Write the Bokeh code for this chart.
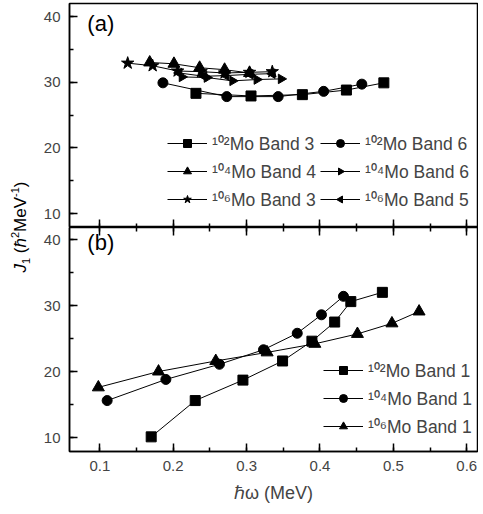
from bokeh.plotting import figure
from bokeh.models import (Range1d, SingleIntervalTicker, LinearAxis, Legend,
                          LegendItem, Label, Div, CustomJS, CustomJSTickFormatter)
from bokeh.layouts import row, column
from bokeh.embed import file_html
from bokeh.resources import INLINE

FONT = "Liberation Sans"

# ---------------- data: panel (a) ----------------
mo102_b3_x = [0.231, 0.306, 0.376, 0.436, 0.487]
mo102_b3_y = [28.3, 27.9, 28.1, 28.8, 29.9]
mo102_b6_x = [0.186, 0.273, 0.343, 0.405, 0.457]
mo102_b6_y = [29.9, 27.8, 27.8, 28.6, 29.7]
mo104_b4_x = [0.168, 0.201, 0.236, 0.270, 0.304]
mo104_b4_y = [33.0, 32.8, 32.2, 31.9, 31.4]
mo104_b6_x = [0.212, 0.246, 0.281, 0.314, 0.347]
mo104_b6_y = [30.8, 30.7, 30.2, 30.4, 30.5]
mo106_b3_x = [0.138, 0.172, 0.206, 0.238, 0.270, 0.304, 0.335]
mo106_b3_y = [32.9, 32.5, 31.7, 31.6, 31.4, 31.5, 31.6]
mo106_b5_x = [0.208, 0.242, 0.272, 0.305, 0.335]
mo106_b5_y = [31.4, 30.9, 31.0, 31.2, 31.3]

# ---------------- data: panel (b) ----------------
mo102_b1_x = [0.170, 0.230, 0.295, 0.349, 0.389, 0.420, 0.442, 0.485]
mo102_b1_y = [10.1, 15.6, 18.7, 21.6, 24.6, 27.5, 30.6, 32.0]
mo104_b1_x = [0.110, 0.190, 0.263, 0.323, 0.369, 0.402, 0.432]
mo104_b1_y = [15.6, 18.8, 21.1, 23.3, 25.8, 28.6, 31.4]
mo106_b1_x = [0.098, 0.180, 0.258, 0.328, 0.393, 0.451, 0.498, 0.535]
mo106_b1_y = [17.6, 20.0, 21.6, 22.9, 24.2, 25.7, 27.3, 29.1]

X0, X1 = 0.0587, 0.6146
YA0, YA1 = 7.87, 41.98
YB0, YB1 = 7.88, 41.83

DIV_W = 30
FIG_W = 448
FRAME_H = 224
LEFT = 39
TOP_A = 3
BOTTOM_B = 58

TRI_JS = """
export default (args, obj, {ctx, i, r, visuals}) => {
  const d = args.dir
  ctx.beginPath()
  ctx.moveTo(d*r, 0)
  ctx.lineTo(-d*r*0.5, -r*0.866)
  ctx.lineTo(-d*r*0.5, r*0.866)
  ctx.closePath()
  if (visuals.fill.doit) { visuals.fill.set_vectorize(ctx, i); ctx.fill() }
  if (visuals.line.doit) { visuals.line.set_vectorize(ctx, i); ctx.stroke() }
}
"""
MARKER_DEFS = {
    "@right": CustomJS(args=dict(dir=1), code=TRI_JS),
    "@left": CustomJS(args=dict(dir=-1), code=TRI_JS),
}


def make_fig(height, top, bottom, y0, y1):
    p = figure(width=FIG_W, height=height, x_range=Range1d(X0, X1),
               y_range=Range1d(y0, y1), output_backend="svg",
               toolbar_location=None, min_border_left=LEFT,
               min_border_right=1, min_border_top=top,
               min_border_bottom=bottom)
    p.xgrid.visible = False
    p.ygrid.visible = False
    p.outline_line_color = "black"
    p.outline_line_width = 1.5
    p.background_fill_color = "white"
    p.border_fill_color = "white"
    return p


def style_axis(ax, interval, labels=True):
    ax.ticker = SingleIntervalTicker(interval=interval, num_minor_ticks=2)
    ax.major_tick_in = 8
    ax.major_tick_out = 0
    ax.minor_tick_in = 4
    ax.minor_tick_out = 0
    ax.axis_line_width = 1.5
    ax.major_tick_line_width = 1.5
    ax.minor_tick_line_width = 1.5
    ax.major_label_text_font = FONT
    if labels:
        ax.major_label_text_font_size = "15px"
        ax.major_label_standoff = 9
    else:
        ax.formatter = CustomJSTickFormatter(code="return ''")
        ax.major_label_text_font_size = "1px"
        ax.major_label_standoff = 0
        ax.axis_line_color = None


def series(p, x, y, marker, size):
    r1 = p.line(x, y, line_color="black", line_width=1)
    if marker.startswith("@"):
        r2 = p.scatter(x, y, marker=marker, size=size, defs=MARKER_DEFS,
                       fill_color="black", line_color="black")
    else:
        r2 = p.scatter(x, y, marker=marker, size=size,
                       fill_color="black", line_color="black")
    return [r1, r2]


def style_legend(lg, spacing):
    lg.label_text_font = FONT
    lg.label_text_font_size = "17.5px"
    lg.glyph_width = 40
    lg.glyph_height = 20
    lg.label_standoff = 5
    lg.spacing = spacing
    lg.padding = 0
    lg.margin = 0
    lg.border_line_color = None
    lg.background_fill_alpha = 0


# ---------------- panel (a) ----------------
fa = make_fig(FRAME_H + TOP_A, TOP_A, 0, YA0, YA1)
style_axis(fa.xaxis[0], 0.1, labels=False)
style_axis(fa.yaxis[0], 10)

ra1 = series(fa, mo102_b3_x, mo102_b3_y, "square", 10)
ra2 = series(fa, mo102_b6_x, mo102_b6_y, "circle", 10)
ra3 = series(fa, mo104_b4_x, mo104_b4_y, "triangle", 12)
ra4 = series(fa, mo104_b6_x, mo104_b6_y, "@right", 11)
ra5 = series(fa, mo106_b3_x, mo106_b3_y, "star", 13)
ra6 = series(fa, mo106_b5_x, mo106_b5_y, "@left", 11)

leg_a = Legend(items=[
    LegendItem(label="¹⁰²Mo Band 3", renderers=ra1),
    LegendItem(label="¹⁰⁴Mo Band 4", renderers=ra3),
    LegendItem(label="¹⁰⁶Mo Band 3", renderers=ra5),
    LegendItem(label="¹⁰²Mo Band 6", renderers=ra2),
    LegendItem(label="¹⁰⁴Mo Band 6", renderers=ra4),
    LegendItem(label="¹⁰⁶Mo Band 5", renderers=ra6),
], location=(98, 16), orientation="vertical", ncols=2)
style_legend(leg_a, 4)
fa.add_layout(leg_a)

fa.add_layout(Label(x=0.083, y=40.9, text="(a)", text_baseline="top",
                    text_font=FONT, text_font_size="22px",
                    text_color="black"))

# ---------------- panel (b) ----------------
fb = make_fig(FRAME_H + BOTTOM_B, 0, BOTTOM_B, YB0, YB1)
bottom_ax = fb.xaxis[0]
style_axis(bottom_ax, 0.1)
style_axis(fb.yaxis[0], 10)
bottom_ax.axis_label = "ℏω (MeV)"
bottom_ax.axis_label_text_font = FONT
bottom_ax.axis_label_text_font_size = "18px"
bottom_ax.axis_label_text_font_style = "normal"
bottom_ax.axis_label_standoff = 9
top_ax = LinearAxis()
style_axis(top_ax, 0.1, labels=False)
fb.add_layout(top_ax, "above")

rb1 = series(fb, mo102_b1_x, mo102_b1_y, "square", 10)
rb2 = series(fb, mo104_b1_x, mo104_b1_y, "circle", 10)
rb3 = series(fb, mo106_b1_x, mo106_b1_y, "triangle", 12)

leg_b = Legend(items=[
    LegendItem(label="¹⁰²Mo Band 1", renderers=rb1),
    LegendItem(label="¹⁰⁴Mo Band 1", renderers=rb2),
    LegendItem(label="¹⁰⁶Mo Band 1", renderers=rb3),
], location=(254, 13))
style_legend(leg_b, 4)
fb.add_layout(leg_b)

fb.add_layout(Label(x=0.083, y=41.5, text="(b)", text_baseline="top",
                    text_font=FONT, text_font_size="22px",
                    text_color="black"))

# ---------------- y-axis title spanning both panels ----------------
total_h = (FRAME_H + TOP_A) + (FRAME_H + BOTTOM_B)
ylabel = Div(width=DIV_W, height=total_h, margin=0, text=(
    f'<div style="position:relative;width:{DIV_W}px;height:{total_h}px;">'
    f'<div style="position:absolute;left:21px;top:{FRAME_H + TOP_A}px;'
    'transform:translate(-50%,-50%) rotate(-90deg);white-space:nowrap;'
    f"font-family:'{FONT}';font-size:17px;color:black;line-height:1;\">"
    '<i>J</i><sub style="font-size:11px">1</sub> '
    '(<i>ħ</i><sup style="font-size:11px">2</sup>MeV'
    '<sup style="font-size:11px">-1</sup>)</div></div>'))

layout = row(ylabel, column(fa, fb, spacing=0), spacing=0)

html = file_html(layout, INLINE)
open("out.html", "w").write(html)
